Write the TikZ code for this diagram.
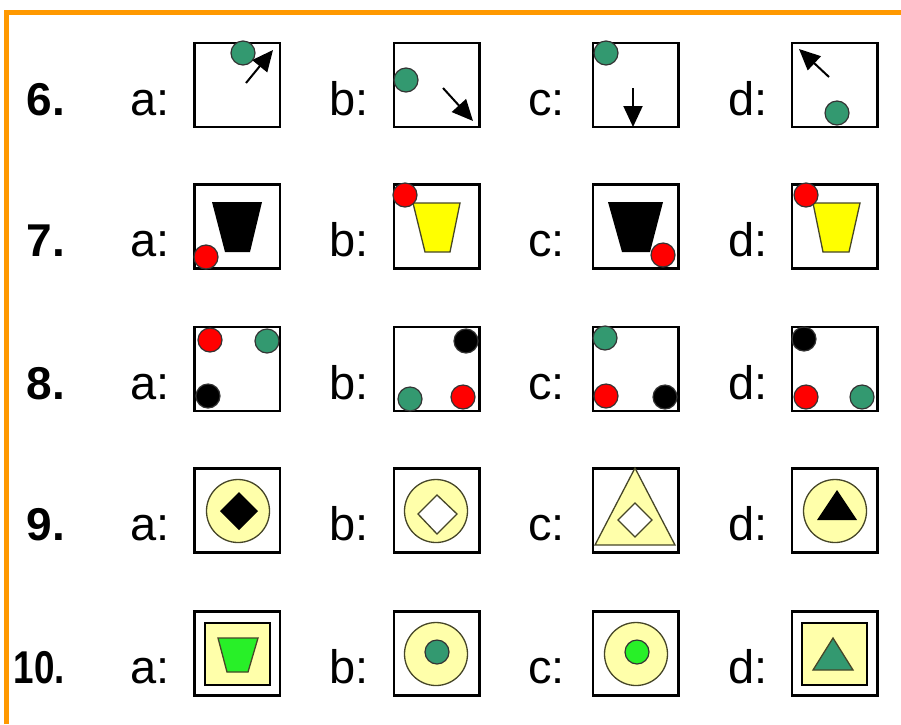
\documentclass[tikz,border=0pt]{standalone}
\usepackage{fontspec}
\setmainfont{Liberation Sans}
\usetikzlibrary{arrows.meta}

\begin{document}
\begin{tikzpicture}[x=1pt, y=-1pt,
    panel/.style={draw, line width=2.5pt, minimum width=85.5pt, minimum height=84pt, inner sep=0pt},
    dot/.style={draw=black!80, circle, line width=1.2pt, minimum size=24pt, inner sep=0pt},
    ring/.style={draw=rim, circle, line width=1.3pt, fill=paleyellow, minimum size=63pt, inner sep=0pt},
    num/.style={font=\fontsize{46}{50}\selectfont\bfseries, inner sep=0pt, anchor=base east},
    letter/.style={font=\fontsize{47}{50}\selectfont, inner sep=0pt, anchor=base west},
    move/.style={-{Triangle[length=21pt, width=19pt]}, line width=2pt, draw=black}]
    \definecolor{frame}{RGB}{255,153,0}
    \definecolor{dotgreen}{RGB}{51,153,112}
    \definecolor{paleyellow}{RGB}{255,255,170}
    \definecolor{cupyellow}{RGB}{255,255,0}
    \definecolor{brightgreen}{RGB}{40,240,40}
    \definecolor{rim}{RGB}{70,70,40}

    \useasboundingbox (0,0) rectangle (901,724);
    \draw[frame, line width=5pt] (6,724) -- (6,12.5) -- (901,12.5);

    % Draw labels
    \node[num] (n6) at (65,115) {6.};
    \node[num] (n7) at (65,256) {7.};
    \node[num] (n8) at (65,399) {8.};
    \node[num] (n9) at (65,540) {9.};
    \node[num] (n10) at (65,683) {\scalebox{0.8}[1]{10.}};
    \foreach \r/\y in {6/115, 7/256, 8/399, 9/540, 10/683} {
        \node[letter] (l\r a) at (130,\y) {a:};
        \node[letter] (l\r b) at (329,\y) {b:};
        \node[letter] (l\r c) at (528,\y) {c:};
        \node[letter] (l\r d) at (728,\y) {d:};
    }

    % Draw panels
    \foreach \r/\y in {6/85, 7/226.5, 8/369, 9/510.5, 10/653.5} {
        \node[panel] (p\r a) at (237,\y) {};
        \node[panel] (p\r b) at (436.5,\y) {};
        \node[panel] (p\r c) at (635.5,\y) {};
        \node[panel] (p\r d) at (834.5,\y) {};
    }

    % Row 6
    \node[dot, fill=dotgreen] (g6a) at (243,53) {};
    \coordinate (s6a) at (246,83);
    \coordinate (t6a) at (273,50);
    \draw[move] (s6a) -- (t6a);
    \node[dot, fill=dotgreen] (g6b) at (406,80) {};
    \coordinate (s6b) at (443,88);
    \coordinate (t6b) at (473,121);
    \draw[move] (s6b) -- (t6b);
    \node[dot, fill=dotgreen] (g6c) at (606,53) {};
    \coordinate (s6c) at (633,88);
    \coordinate (t6c) at (633,127);
    \draw[move] (s6c) -- (t6c);
    \coordinate (s6d) at (829,77);
    \coordinate (t6d) at (799,49);
    \draw[move] (s6d) -- (t6d);
    \node[dot, fill=dotgreen] (g6d) at (837,113) {};

    % Row 7
    \fill[black] (212,202) -- (262,202) -- (250,252) -- (225,252) -- cycle;
    \node[dot, fill=red] (r7a) at (206,257) {};
    \filldraw[fill=cupyellow, draw=rim, line width=1.3pt] (413,203) -- (460,203) -- (450,252) -- (425,252) -- cycle;
    \node[dot, fill=red] (r7b) at (405,195) {};
    \fill[black] (608,202) -- (663,202) -- (650,252) -- (622,252) -- cycle;
    \node[dot, fill=red] (r7c) at (663,255) {};
    \filldraw[fill=cupyellow, draw=rim, line width=1.3pt] (813,203) -- (860,203) -- (849,252) -- (823,252) -- cycle;
    \node[dot, fill=red] (r7d) at (806,195) {};

    % Row 8
    \node[dot, fill=red] (r8a) at (210,340) {};
    \node[dot, fill=dotgreen] (g8a) at (267,341) {};
    \node[dot, fill=black] (k8a) at (208,396) {};
    \node[dot, fill=black] (k8b) at (466,341) {};
    \node[dot, fill=dotgreen] (g8b) at (410,399) {};
    \node[dot, fill=red] (r8b) at (463,397) {};
    \node[dot, fill=dotgreen] (g8c) at (605,338) {};
    \node[dot, fill=red] (r8c) at (606,396) {};
    \node[dot, fill=black] (k8c) at (665,397) {};
    \node[dot, fill=black] (k8d) at (804,339) {};
    \node[dot, fill=red] (r8d) at (806,397) {};
    \node[dot, fill=dotgreen] (g8d) at (862,397) {};

    % Row 9
    \node[ring] (y9a) at (238,511) {};
    \fill[black] (239,492) -- (258,511) -- (239,530) -- (220,511) -- cycle;
    \node[ring] (y9b) at (436,511) {};
    \filldraw[fill=white, draw=rim, line width=1.3pt] (437,495) -- (457,514) -- (437,534) -- (418,514) -- cycle;
    \filldraw[fill=paleyellow, draw=rim, line width=1.3pt] (635,468) -- (675,545) -- (595,545) -- cycle;
    \filldraw[fill=white, draw=rim, line width=1.3pt] (635,503) -- (652,520) -- (635,537) -- (618,520) -- cycle;
    \node[ring] (y9d) at (835,511) {};
    \fill[black] (837,490) -- (857,520) -- (817,520) -- cycle;

    % Row 10
    \filldraw[fill=paleyellow, draw=black, line width=2.5pt] (205,623) rectangle (270,685);
    \filldraw[fill=brightgreen, draw=rim, line width=1.3pt] (218,638) -- (258,638) -- (248,672) -- (227,672) -- cycle;
    \node[ring] (y10b) at (436,654) {};
    \node[dot, fill=dotgreen] (g10b) at (437,652) {};
    \node[ring] (y10c) at (636,654) {};
    \node[dot, fill=brightgreen] (g10c) at (637,652) {};
    \filldraw[fill=paleyellow, draw=black, line width=2.5pt] (802,623) rectangle (867,685);
    \filldraw[fill=dotgreen, draw=rim, line width=1.3pt] (833,638) -- (853,670) -- (813,670) -- cycle;
\end{tikzpicture}
\end{document}
